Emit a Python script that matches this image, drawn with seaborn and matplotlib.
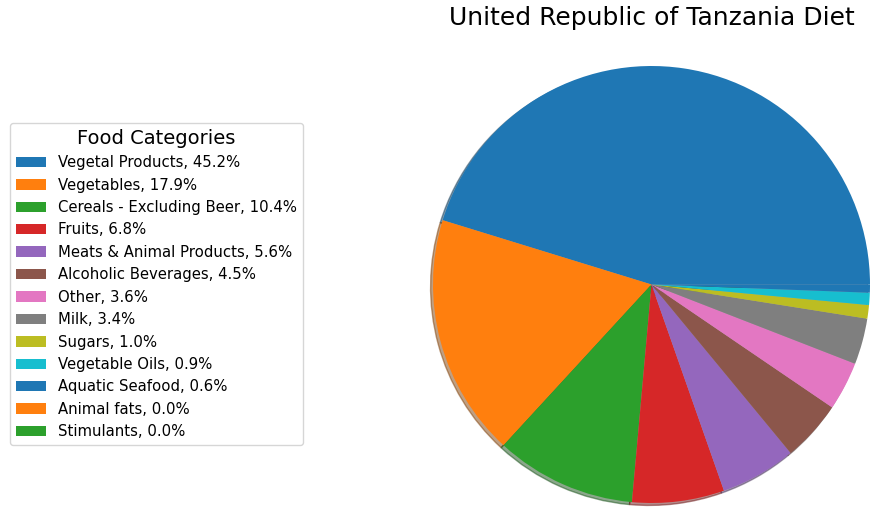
import matplotlib
matplotlib.use("Agg")
import matplotlib.pyplot as plt
import seaborn as sns

categories = ["Vegetal Products", "Vegetables", "Cereals - Excluding Beer", "Fruits",
              "Meats & Animal Products", "Alcoholic Beverages", "Other", "Milk",
              "Sugars", "Vegetable Oils", "Aquatic Seafood", "Animal fats", "Stimulants"]
values = [45.2, 17.9, 10.4, 6.8, 5.6, 4.5, 3.6, 3.4, 1.0, 0.9, 0.6, 0.0, 0.0]

colors = sns.color_palette("tab10", 10)
colors = [colors[i % 10] for i in range(len(values))]

fig = plt.figure(figsize=(8.76, 5.11), dpi=100)
ax = fig.add_axes([433/876, 67/511 * 0 + 8/511, 437/876, 437/511])
wedges, _ = ax.pie(values, colors=colors, startangle=0,
                   shadow={'ox': -0.008, 'oy': -0.008, 'shade': 0.5})
ax.set_xlim(-1.0, 1.0)
ax.set_ylim(-1.0, 1.0)
ax.set_aspect("equal")
fig.text(652/876, 1 - 18/511, "United Republic of Tanzania Diet", ha="center", va="center", fontsize=18)
labels = [f"{c}, {v:.1f}%" for c, v in zip(categories, values)]
fig.legend(wedges, labels, title="Food Categories", loc="center left",
           bbox_to_anchor=(3/876, 1 - 284/511), fontsize=10.7, title_fontsize=14)
fig.savefig("out.png", dpi=100)
